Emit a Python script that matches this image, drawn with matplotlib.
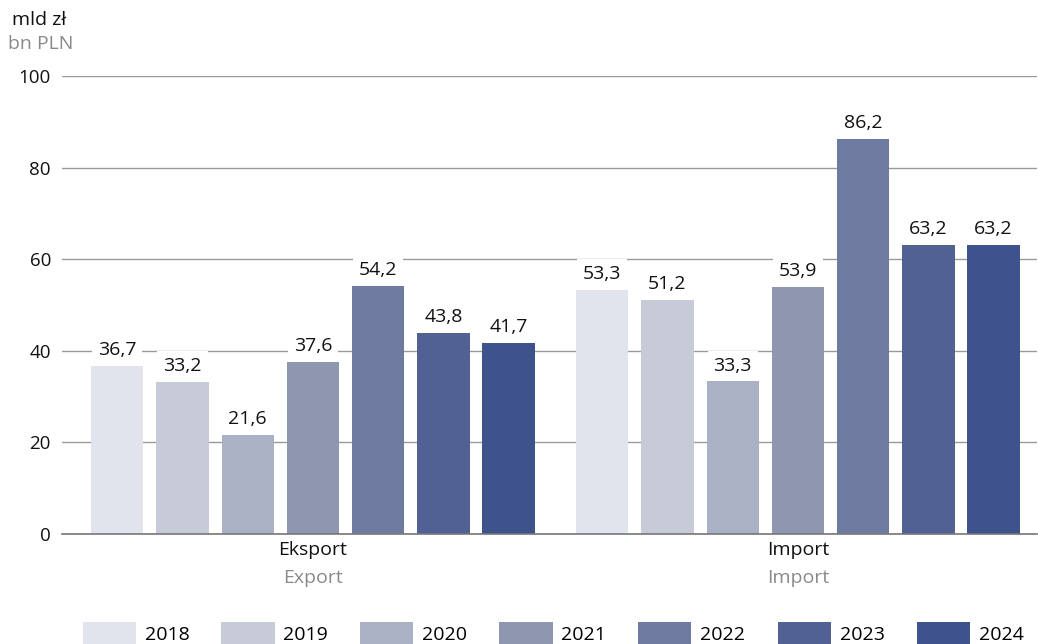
import matplotlib
matplotlib.use("Agg")
import matplotlib.pyplot as plt
from matplotlib.patches import Patch
import numpy as np

plt.rcParams['font.family'] = ['Open Sans', 'DejaVu Sans']

categories = ["Eksport", "Import"]
categories_en = ["Export", "Import"]
years = ["2018", "2019", "2020", "2021", "2022", "2023", "2024"]
eksport = [36.7, 33.2, 21.6, 37.6, 54.2, 43.8, 41.7]
import_ = [53.3, 51.2, 33.3, 53.9, 86.2, 63.2, 63.2]
colors = ["#E1E4EC", "#C7CBD8", "#ABB1C5", "#8F96B0", "#6E7A9F", "#526194", "#3E528C"]
yticks = [0, 20, 40, 60, 80, 100]

fig = plt.figure(figsize=(10.38, 6.44), dpi=100)
ax = fig.add_axes([62/1038, 1-534/644, (1037-62)/1038, (534-76)/644])

x = np.arange(len(categories))
step = 0.1345
width = 0.108
for i, yr in enumerate(years):
    vals = [eksport[i], import_[i]]
    pos = x + (i - 3) * step
    ax.bar(pos, vals, width=width, color=colors[i], zorder=2)
    for p, v in zip(pos, vals):
        ax.annotate(f"{v:.1f}".replace(".", ","), (p, v), xytext=(0, 5),
                    textcoords="offset points", ha="center", va="bottom",
                    fontsize=14, color="#111111", zorder=3,
                    bbox=dict(boxstyle="square,pad=0.3", fc="white", ec="none"))

ax.set_xlim(-0.5175, 1.493)
ax.set_ylim(0, 100)
ax.set_yticks(yticks)
ax.set_yticklabels([str(t) for t in yticks], fontsize=13.5, color="#111111")
ax.yaxis.grid(True, color="#9a9a9a", linewidth=1.0, zorder=0)
ax.set_axisbelow(True)
for s in ["top", "right", "left"]:
    ax.spines[s].set_visible(False)
ax.spines["bottom"].set_color("#777777")
ax.spines["bottom"].set_linewidth(1.2)
ax.spines["bottom"].set_zorder(4)
ax.tick_params(axis="y", length=0, pad=8)
ax.tick_params(axis="x", length=0, pad=5)
ax.set_xticks(x)
ax.set_xticklabels(categories, fontsize=14, color="#111111")
for xi, lab in zip(x, categories_en):
    ax.annotate(lab, (xi, 0), xycoords=("data", "axes fraction"), xytext=(0, -32),
                textcoords="offset points", ha="center", va="center", fontsize=14,
                color="#8a8a8a")

fig.text(12/1038, 1-20/644, "mld zł", fontsize=14, color="#111111", va="center", ha="left")
fig.text(8/1038, 1-44/644, "bn PLN", fontsize=14, color="#8a8a8a", va="center", ha="left")

handles = [Patch(facecolor=c, edgecolor="none") for c in colors]
leg = fig.legend(handles, years, loc="center", bbox_to_anchor=(553/1038, 1-634/644),
                 ncol=7, frameon=False, fontsize=14, handlelength=2.73, handleheight=1.45,
                 handletextpad=0.46, columnspacing=1.65, borderpad=0, borderaxespad=0)

fig.savefig("out.png", dpi=100)
